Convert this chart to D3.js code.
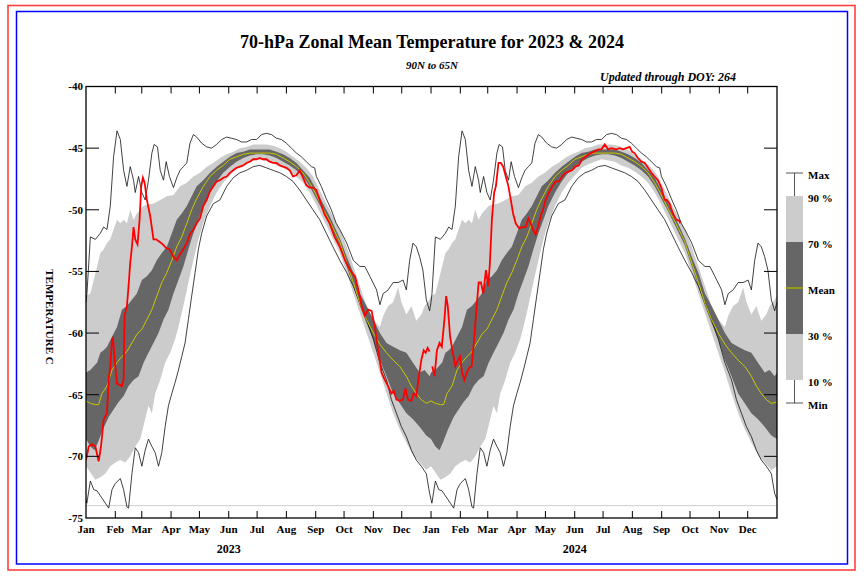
<!DOCTYPE html>
<html><head><meta charset="utf-8">
<script src="https://cdn.jsdelivr.net/npm/d3@7"></script>
<style>
html,body{margin:0;padding:0;background:#fff;}
svg text{font-family:"Liberation Serif","Times New Roman",serif;font-weight:bold;}
</style></head>
<body><svg id="chart" width="864" height="576"></svg>
<script>
// ---- DATA (day-of-year index, temperature C) ----
const climMax = [[0,-57.5],[1,-56.8],[4.6,-52.2],[9.9,-52.4],[15.2,-51.9],[18.7,-51.4],[22.2,-51.6],[25.7,-49.7],[29.2,-45.7],[32.8,-43.6],[36.3,-44.3],[39.8,-46.8],[43.3,-48.1],[46.8,-46.5],[50.3,-47.6],[52.1,-48.6],[55.6,-47.3],[59.1,-48.6],[62.6,-49.2],[66.1,-47.6],[69.7,-45.4],[72.1,-44.7],[75.6,-44.9],[78.5,-46.8],[82,-47.6],[84.8,-46.1],[88.3,-47.3],[92.5,-48.2],[96,-47.4],[99.5,-46.8],[103,-46.5],[106.6,-46.2],[110,-44.6],[113.6,-43.9],[117.1,-44.1],[122.4,-44.6],[127.7,-44.9],[132.9,-45],[138.2,-44.7],[143.5,-44.3],[148.8,-44.1],[154,-44.2],[159.3,-44.3],[164.6,-44.5],[169.8,-44.5],[175.1,-44.3],[180.4,-44.3],[185.7,-43.9],[190.9,-43.8],[196.2,-43.9],[201.5,-44.2],[206.7,-44.3],[212,-44.6],[217.3,-45],[222.6,-45.4],[227.8,-45.7],[233.1,-46.1],[238.4,-46.5],[241.9,-46.6],[243.7,-47.3],[248.9,-48.1],[254.2,-49.1],[259.5,-50],[264.7,-51.1],[268.5,-51.6],[275.8,-52.7],[282.8,-54.1],[289.8,-54.6],[295,-54.6],[300.3,-55.4],[307.4,-56.5],[310.9,-57.7],[314.4,-56.8],[319.6,-56.5],[324.9,-55.9],[330.2,-55.9],[335.4,-55.7],[338.9,-56.5],[342.4,-54.1],[345.9,-52.7],[349.4,-53],[352.9,-53.8],[356.4,-54.9],[360,-57.3],[363.5,-58.2],[366,-57.5]];
const climP90 = [[0,-57],[4.6,-56.8],[8.2,-55.7],[11.7,-54.6],[15.2,-53.5],[18.7,-53.2],[22.2,-52.7],[25.7,-52.4],[29.2,-51.6],[32.8,-50.8],[36.3,-51.1],[39.8,-50.8],[43.3,-51.1],[46.8,-50],[50.3,-50.8],[53.8,-50.3],[57.4,-50],[60.9,-49.7],[64.4,-49.6],[71.4,-49.5],[78.5,-49.2],[85.5,-48.9],[92.5,-48.8],[99.5,-48.1],[106.6,-47.8],[113.6,-47.3],[120.6,-47],[127.7,-46.5],[134.7,-46.2],[141.7,-45.8],[148.8,-45.5],[155.8,-45.3],[162.8,-45],[169.8,-44.9],[176.9,-44.7],[183.9,-44.7],[190.9,-44.7],[198,-44.8],[205,-45],[212,-45.3],[219,-45.7],[226.1,-46.1],[233.1,-46.6],[240.1,-47.3],[247.2,-48.4],[254.2,-49.5],[261.2,-50.5],[268.5,-51.6],[275.8,-53],[282.8,-54.6],[289.8,-56.2],[296.8,-57.8],[303.9,-58.9],[310.9,-59.5],[314.4,-58.6],[319.6,-57.8],[324.9,-57.5],[330.2,-56.3],[333.7,-57.5],[338.9,-58.5],[344.2,-57.8],[349.4,-59],[354.7,-58.5],[358.2,-57.8],[361.7,-57.5],[366,-57]];
const climP70 = [[0,-63.2],[4.6,-63],[8.2,-62.7],[11.7,-62.4],[15.2,-61.6],[18.7,-61.4],[22.2,-61.1],[27.5,-60.3],[32.8,-59.5],[38,-58.1],[43.3,-57.8],[48.6,-57.3],[53.8,-56.8],[59.1,-55.7],[64.4,-55.4],[69.7,-54.9],[74.9,-54.1],[80.2,-53.5],[85.5,-53],[90.8,-51.9],[96,-50.8],[101.3,-50.3],[106.6,-49.7],[111.8,-48.9],[117.1,-48.1],[124.1,-47.6],[131.2,-47],[138.2,-46.5],[145.2,-46.1],[152.3,-45.7],[159.3,-45.4],[166.3,-45.3],[173.4,-45.1],[180.4,-45.1],[187.4,-45.1],[194.4,-45.1],[201.5,-45.3],[208.5,-45.5],[215.5,-45.8],[222.6,-46.2],[229.6,-46.8],[236.6,-47.4],[243.7,-48.4],[250.7,-49.5],[257.7,-50.5],[268.5,-52.3],[275.8,-53.8],[282.8,-55.1],[289.8,-56.8],[296.8,-57.8],[303.9,-58.9],[310.9,-60],[317.9,-60.8],[324.9,-61.1],[331.9,-61.4],[338.9,-61.6],[345.9,-62.4],[352.9,-63.2],[358.2,-63],[363.5,-63.5],[366,-63.2]];
const climMean = [[0,-65.5],[4.6,-65.7],[9.9,-65.8],[13.4,-65.8],[16.9,-64.9],[22.2,-64.3],[27.5,-63],[32.8,-62.4],[38,-61.9],[43.3,-61.5],[48.6,-60.8],[53.8,-60.1],[59.1,-59.7],[64.4,-58.9],[69.7,-58.1],[74.9,-57],[80.2,-55.9],[85.5,-55.1],[90.8,-54.1],[96,-53],[101.3,-52.2],[106.6,-51.1],[111.8,-50],[117.1,-49.1],[124.1,-48.1],[131.2,-47.3],[138.2,-46.8],[145.2,-46.4],[152.3,-45.9],[159.3,-45.7],[166.3,-45.5],[173.4,-45.4],[180.4,-45.4],[187.4,-45.4],[194.4,-45.4],[201.5,-45.5],[208.5,-45.8],[215.5,-46.1],[222.6,-46.5],[229.6,-47],[236.6,-47.8],[243.7,-48.8],[250.7,-49.9],[257.7,-50.9],[268.5,-52.6],[275.8,-54.3],[282.8,-55.9],[289.8,-57.6],[296.8,-58.9],[303.9,-60],[310.9,-60.9],[317.9,-61.6],[324.9,-62.2],[331.9,-62.7],[338.9,-63.5],[344.2,-64.3],[349.4,-64.9],[354.7,-65.4],[360,-65.7],[366,-65.6]];
const climP30 = [[0,-68.6],[4.6,-69.2],[9,-69.5],[13,-68.8],[18,-67.8],[24,-66.8],[29.2,-66.2],[34.5,-65.6],[39.8,-65.1],[45,-64.3],[50.3,-63.8],[55.6,-63.5],[60.9,-62.4],[66.1,-61.6],[71.4,-60.8],[76.7,-60],[82,-58.9],[87.2,-58.1],[92.5,-56.8],[97.8,-55.7],[103,-54.6],[108.3,-53.2],[113.6,-51.9],[118.9,-50.8],[124.1,-49.7],[131.2,-48.6],[138.2,-47.7],[145.2,-47],[152.3,-46.5],[159.3,-46.1],[166.3,-45.8],[173.4,-45.6],[180.4,-45.5],[187.4,-45.5],[194.4,-45.6],[201.5,-45.8],[208.5,-46.1],[215.5,-46.4],[222.6,-46.8],[229.6,-47.3],[236.6,-48.1],[243.7,-49.1],[250.7,-50.1],[257.7,-51.2],[268.5,-52.9],[275.8,-54.6],[282.8,-56.2],[289.8,-57.8],[296.8,-59.2],[303.9,-60.5],[310.9,-62.2],[317.9,-63.5],[324.9,-64.9],[331.9,-65.7],[338.9,-66.5],[345.9,-67],[352.9,-67.6],[360,-68.3],[366,-68.6]];
const climP10 = [[0,-70.8],[4.6,-71.3],[9.9,-71.9],[15.2,-71.7],[20.5,-71.4],[25.7,-70.8],[31,-70.5],[36.3,-70.3],[41.5,-70.5],[46.8,-70],[52.1,-69.2],[57.4,-68.6],[62.6,-67],[66.1,-65.9],[69.7,-66.5],[73.2,-64.9],[78.5,-63.8],[83.7,-62.4],[89,-61.6],[94.3,-60.5],[97.8,-59.5],[103,-57.8],[108.3,-55.9],[113.6,-54.1],[118.9,-52.4],[124.1,-51.1],[131.2,-49.7],[138.2,-48.6],[145.2,-47.8],[152.3,-47.2],[159.3,-46.6],[166.3,-46.3],[173.4,-46.1],[180.4,-45.9],[187.4,-46],[194.4,-46.1],[201.5,-46.4],[208.5,-46.6],[215.5,-46.9],[222.6,-47.3],[229.6,-47.8],[236.6,-48.6],[243.7,-49.6],[250.7,-50.7],[257.7,-51.8],[268.5,-53.5],[275.8,-55.1],[282.8,-56.8],[289.8,-58.4],[296.8,-60],[303.9,-61.6],[310.9,-63.2],[317.9,-64.9],[324.9,-66.5],[331.9,-67.8],[338.9,-68.9],[345.9,-69.9],[352.9,-70.5],[360,-71.1],[366,-70.8]];
const climMin = [[0,-73.5],[0.9,-73.8],[4.6,-72],[8.2,-72.7],[11.7,-72.8],[15.2,-73.2],[20.5,-73.8],[24,-74.2],[27.5,-72.7],[31,-72.2],[36.3,-71.8],[39.8,-72.7],[43.3,-74.1],[45,-74.2],[48.6,-71.4],[52.1,-69.3],[55.6,-69.7],[59.1,-70.8],[62.6,-69.5],[66.1,-68.6],[69.7,-69.2],[73.2,-69.7],[76.7,-70.8],[80.2,-69.7],[83.7,-67.6],[87.2,-65.9],[90.8,-64.9],[94.3,-64],[97.8,-63],[101.3,-61.9],[104.8,-60.8],[108.3,-58.9],[111.8,-57],[115.4,-55.1],[118.9,-53.2],[122.4,-51.9],[127.7,-50.5],[134.7,-49.5],[141.7,-49.2],[148.8,-48.1],[155.8,-47.4],[162.8,-47],[169.8,-46.8],[176.9,-46.5],[183.9,-46.4],[190.9,-46.6],[198,-46.8],[205,-47],[212,-47.3],[219,-47.7],[226.1,-48.4],[233.1,-49.2],[240.1,-50],[247.2,-50.8],[254.2,-51.9],[261.2,-53],[268.5,-54.1],[275.8,-55.1],[282.8,-56.2],[289.8,-57.6],[296.8,-58.9],[303.9,-60.5],[310.9,-62.4],[317.9,-63.8],[323.1,-65.4],[328.4,-66.5],[333.7,-67.6],[338.9,-68.4],[344.2,-69.5],[349.4,-70.3],[354.7,-70.8],[360,-71.4],[363.5,-73],[366,-73.5]];
const obs2023 = [[0,-70.3],[2.9,-69.2],[6.4,-69],[9.9,-69.2],[13.4,-70.4],[15.9,-69.2],[18.7,-67],[22.2,-66.5],[24,-63.8],[25.7,-62.7],[27.5,-60.5],[28.5,-60.4],[30.3,-62.2],[32.8,-64.1],[35.6,-64.2],[38,-64.3],[39.8,-63.8],[40.8,-58.6],[43.3,-57.8],[45,-56.2],[46.8,-54.3],[48.6,-53],[50.3,-51.4],[52.1,-52.4],[54.5,-52.8],[56.7,-50.8],[58.4,-48.1],[60.2,-47.4],[62,-47.8],[64.4,-49.2],[67.9,-50.5],[71.4,-52.4],[74.2,-52.4],[77.7,-52.6],[81.3,-52.8],[84.8,-53.1],[88.3,-53.2],[92.5,-53.8],[96,-54.1],[99.5,-53.6],[103,-53.2],[106.6,-52.7],[110,-52],[113.6,-51.6],[117.1,-51.1],[120.6,-50.7],[124.1,-49.7],[127.7,-49.2],[131.2,-48.5],[134.7,-48.1],[138.2,-47.7],[141.7,-47.6],[145.2,-47.4],[148.8,-47.3],[152.3,-47],[155.8,-46.8],[159.3,-46.6],[162.8,-46.5],[166.3,-46.4],[169.8,-46.2],[173.4,-46.1],[176.9,-45.9],[180.4,-45.9],[183.9,-45.8],[187.4,-45.9],[190.9,-45.9],[194.4,-46.1],[198,-46.2],[201.5,-46.2],[205,-46.4],[208.5,-46.5],[212,-46.6],[215.5,-46.8],[219,-47.3],[222.6,-47.2],[226.1,-46.8],[229.6,-47.4],[233.1,-48],[236.6,-48.2],[240.1,-48.2],[243.7,-48.4],[247.2,-49.2],[252.5,-50.4],[257.7,-51.1],[263,-52.2],[268.5,-53],[274,-54.1],[279.3,-54.9],[284.6,-55.4],[288.1,-56.5],[291.6,-57.8],[295.1,-58.6],[298.6,-58.1],[302.1,-58.2],[305.6,-59.5],[309.1,-61.4],[312.6,-63.2],[316.1,-63.8],[319.6,-64.3],[323.1,-64.9],[325.6,-64.7],[328.4,-65.4],[331.9,-65.5],[335.4,-65.4],[337.9,-64.5],[340.7,-65.4],[344.2,-65.5],[346.6,-64.9],[349.4,-65.1],[352.2,-63.5],[354.7,-62.2],[357.2,-61.4],[359.3,-61.6],[361.4,-61.2],[363.5,-61.5]];
const obs2024 = [[1.3,-62.7],[3.7,-63.5],[6.2,-61.4],[9,-60.8],[11.4,-61.1],[14.2,-58.9],[16,-57],[17.7,-57.8],[20.2,-60.3],[23,-61.6],[25.8,-62.7],[28.3,-62.2],[30.7,-61.9],[32.8,-63.2],[35.3,-63.8],[37.7,-63.2],[40.5,-62.8],[43,-62.7],[45.8,-60.3],[48.3,-57.8],[50.4,-55.9],[52.8,-55.9],[55.3,-56.8],[58.1,-54.9],[60.5,-56.2],[62.3,-54.3],[64.4,-50.8],[66.8,-48.6],[68.6,-48.1],[71.4,-46.2],[73.9,-46.2],[76.3,-46.5],[79.1,-47.3],[81.9,-48.1],[84.4,-49.2],[86.8,-50.3],[89.6,-51.1],[93.1,-51.5],[96.6,-51.4],[100.1,-51.4],[103,-50.7],[105.4,-51.1],[107.9,-51.6],[110.7,-52],[113.1,-51.4],[116,-50.5],[118.4,-50],[121.2,-49.2],[124.7,-48.6],[128.2,-48.1],[131.7,-47.7],[135.2,-47.7],[138.7,-47.3],[142.2,-47],[145.7,-46.9],[149.2,-46.8],[152.8,-46.5],[156.2,-46.4],[159.8,-45.9],[163.3,-45.7],[166.8,-45.5],[172,-45.3],[177.3,-45.1],[180.2,-45.1],[183.8,-44.7],[187.3,-45.1],[190.8,-45],[196.1,-45.1],[199.6,-45],[203.1,-45.1],[206.6,-45],[210.1,-44.9],[213,-45.3],[215.4,-45.4],[218.9,-45.8],[222.5,-46.1],[226,-46.2],[229.5,-46.6],[233,-47],[236.5,-47.3],[240,-47.6],[243.6,-48.2],[247.1,-49.2],[249.5,-49.2],[252.3,-49.5],[255.9,-50.3],[259.4,-50.8],[262.9,-50.9],[263.6,-51.1]];

const monthLabels = ["Jan","Feb","Mar","Apr","May","Jun","Jul","Aug","Sep","Oct","Nov","Dec"];
const monthStart2023 = [0,31,59,90,120,151,181,212,243,273,304,334];
const monthStart2024 = [0,31,60,91,121,152,182,213,244,274,305,335];
const yearLabels = ["2023","2024"];
const yearLength = [365,366];
const yTickValues = [-40,-45,-50,-55,-60,-65,-70,-75];
const baselineValue = -74;
const legendLabels = ["Max","90 %","70 %","Mean","30 %","10 %","Min"];

// ---- LAYOUT ----
const svg = d3.select("#chart");
const L = 86, R = 777, T = 86.5, B = 518;
const totalDays = yearLength[0] + yearLength[1];
const x = d3.scaleLinear().domain([0, totalDays]).range([L, R]);
const y = d3.scaleLinear().domain([-75, -40]).range([B, T]);

// outer frames
svg.append("rect").attr("x",8).attr("y",5.5).attr("width",847).attr("height",564.5)
  .attr("fill","none").attr("stroke","#ff4040").attr("stroke-width",1.6);
svg.append("rect").attr("x",16.5).attr("y",11.5).attr("width",831).attr("height",552.5)
  .attr("fill","none").attr("stroke","#0000ff").attr("stroke-width",1.5);

svg.append("defs").append("clipPath").attr("id","plotclip")
  .append("rect").attr("x",L).attr("y",T).attr("width",R-L).attr("height",B-T);
const g = svg.append("g").attr("clip-path","url(#plotclip)");

// repeat climatology for both years
function twoYears(s){
  const a = s.filter(p => p[0] < yearLength[0]).map(p => [p[0], p[1]]);
  const b = s.map(p => [p[0] + yearLength[0], p[1]]).filter(p => p[0] <= totalDays);
  return a.concat(b);
}
const line = d3.line().x(d => x(d[0])).y(d => y(d[1]));
function band(upper, lower){
  const u = twoYears(upper), l = twoYears(lower).slice().reverse();
  return line(u.concat(l)) + "Z";
}
g.append("path").attr("d", band(climP90, climP10)).attr("fill","#cccccc");
g.append("path").attr("d", band(climP70, climP30)).attr("fill","#666666");

g.append("line").attr("x1",L).attr("x2",R).attr("y1",y(baselineValue)).attr("y2",y(baselineValue))
  .attr("stroke","#cfcfcf").attr("stroke-width",1);

g.append("path").attr("d", line(twoYears(climMax))).attr("fill","none").attr("stroke","#111").attr("stroke-width",0.8);
g.append("path").attr("d", line(twoYears(climMin))).attr("fill","none").attr("stroke","#111").attr("stroke-width",0.8);
g.append("path").attr("d", line(twoYears(climMean))).attr("fill","none").attr("stroke","#c8c800").attr("stroke-width",1);

g.append("path").attr("d", line(obs2023)).attr("fill","none").attr("stroke","#ff0000").attr("stroke-width",1.8);
g.append("path").attr("d", line(obs2024.map(p => [p[0] + yearLength[0], p[1]])))
  .attr("fill","none").attr("stroke","#ff0000").attr("stroke-width",1.8);

// frame
svg.append("rect").attr("x",L).attr("y",T).attr("width",R-L).attr("height",B-T)
  .attr("fill","none").attr("stroke","#000").attr("stroke-width",1.3);

// y ticks & labels
const inner = yTickValues.filter(v => v > -75 && v < -40);
inner.forEach(v => {
  svg.append("line").attr("x1",L).attr("x2",L+13).attr("y1",y(v)).attr("y2",y(v)).attr("stroke","#000").attr("stroke-width",1);
  svg.append("line").attr("x1",R).attr("x2",R-13).attr("y1",y(v)).attr("y2",y(v)).attr("stroke","#000").attr("stroke-width",1);
});
yTickValues.forEach(v => {
  svg.append("text").attr("x",L-3).attr("y",y(v)).attr("dy","0.35em").attr("text-anchor","end")
    .attr("font-size",11).text(v);
});

// month ticks and labels
const starts = monthStart2023.map(d => d).concat(monthStart2024.map(d => d + yearLength[0]));
const labels = monthLabels.concat(monthLabels);
starts.forEach((d, i) => {
  if (d > 0) {
    svg.append("line").attr("x1",x(d)).attr("x2",x(d)).attr("y1",B).attr("y2",B-7).attr("stroke","#000").attr("stroke-width",1);
    svg.append("line").attr("x1",x(d)).attr("x2",x(d)).attr("y1",T).attr("y2",T+7).attr("stroke","#000").attr("stroke-width",1);
  }
  svg.append("text").attr("x",x(d)).attr("y",533).attr("text-anchor","middle").attr("font-size",11).text(labels[i]);
});
svg.append("text").attr("x",x(monthStart2023[5])).attr("y",553).attr("text-anchor","middle").attr("font-size",12).text(yearLabels[0]);
svg.append("text").attr("x",x(monthStart2024[5] + yearLength[0])).attr("y",553).attr("text-anchor","middle").attr("font-size",12).text(yearLabels[1]);

// titles
svg.append("text").attr("x",432).attr("y",48).attr("text-anchor","middle").attr("font-size",18)
  .text("70-hPa Zonal Mean Temperature for 2023 & 2024");
svg.append("text").attr("x",432).attr("y",69).attr("text-anchor","middle").attr("font-size",11)
  .attr("font-style","italic").text("90N to 65N");
svg.append("text").attr("x",736).attr("y",81).attr("text-anchor","end").attr("font-size",12)
  .attr("font-style","italic").text("Updated through DOY: 264");
svg.append("text").attr("transform","translate(46,317) rotate(90)").attr("text-anchor","middle")
  .attr("font-size",11).text("TEMPERATURE C");

// legend
const lg = svg.append("g");
const lx = 786, lw = 17, lc = lx + lw/2;
const ly = [173,196,242,288,334,380,403];
lg.append("line").attr("x1",lc).attr("x2",lc).attr("y1",ly[0]).attr("y2",ly[1]).attr("stroke","#555");
lg.append("line").attr("x1",lx).attr("x2",lx+lw).attr("y1",ly[0]).attr("y2",ly[0]).attr("stroke","#555");
lg.append("line").attr("x1",lc).attr("x2",lc).attr("y1",ly[5]).attr("y2",ly[6]).attr("stroke","#555");
lg.append("line").attr("x1",lx).attr("x2",lx+lw).attr("y1",ly[6]).attr("y2",ly[6]).attr("stroke","#555");
lg.append("rect").attr("x",lx).attr("y",ly[1]).attr("width",lw).attr("height",ly[2]-ly[1]).attr("fill","#cccccc");
lg.append("rect").attr("x",lx).attr("y",ly[2]).attr("width",lw).attr("height",ly[4]-ly[2]).attr("fill","#666666");
lg.append("rect").attr("x",lx).attr("y",ly[4]).attr("width",lw).attr("height",ly[5]-ly[4]).attr("fill","#cccccc");
lg.append("line").attr("x1",lx).attr("x2",lx+lw).attr("y1",ly[3]).attr("y2",ly[3]).attr("stroke","#a8a800").attr("stroke-width",1.5);
legendLabels.forEach((t,i) => {
  lg.append("text").attr("x",808).attr("y",ly[i]+2).attr("dy","0.35em").attr("font-size",11).text(t);
});
</script></body></html>
